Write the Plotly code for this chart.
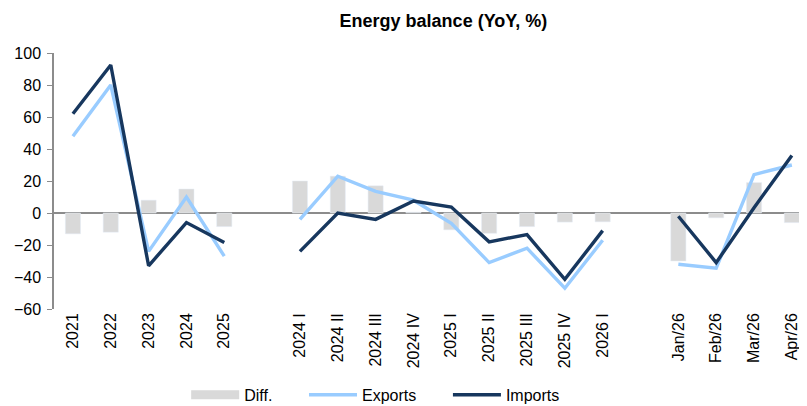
import plotly.graph_objects as go

# categories (blank slots separate the annual / quarterly / monthly blocks)
categories = ['2021', '2022', '2023', '2024', '2025', ' ',
              '2024 I', '2024 II', '2024 III', '2024 IV', '2025 I', '2025 II',
              '2025 III', '2025 IV', '2026 I', '  ',
              'Jan/26', 'Feb/26', 'Mar/26', 'Apr/26']

diff = [-13, -12, 8, 15, -8.5, None,
        20, 23, 17, 0.5, -10.5, -12.7, -8.5, -5.7, -5.5, None,
        -30, -3, 19, -6]
exports = [48, 80, -24, 10, -27, None,
           -4, 23, 13.5, 8, -6.5, -31, -22, -47, -17, None,
           -32, -34.5, 24, 30]
imports = [62, 92.5, -33, -6, -18.5, None,
           -24, 0, -4, 7.5, 3.7, -18, -13.5, -41.5, -11, None,
           -2, -31, 3.3, 36]

grey = '#D9D9D9'
light_blue = '#99CCFF'
navy = '#17375E'
font = 'Liberation Sans, Arial, sans-serif'
pad = '\u00a0' * 6  # extra room between legend entries

fig = go.Figure()

fig.add_trace(go.Bar(x=categories, y=diff, marker=dict(color=grey),
                     showlegend=False, name='Diff.'))
# legend entry for the bars drawn as a thick flat line
fig.add_trace(go.Scatter(x=[None], y=[None], mode='lines', name='Diff.' + pad,
                         line=dict(color=grey, width=9)))
fig.add_trace(go.Scatter(x=categories, y=exports, mode='lines', name='Exports' + pad,
                         line=dict(color=light_blue, width=3.4), connectgaps=False))
fig.add_trace(go.Scatter(x=categories, y=imports, mode='lines', name='Imports',
                         line=dict(color=navy, width=3.4), connectgaps=False))

# the page body adds an 8px offset, so the figure is 8px smaller each way
fig.update_layout(
    width=799, height=398,
    margin=dict(l=46, r=0, t=45, b=97),
    paper_bgcolor='white', plot_bgcolor='white',
    font=dict(family=font, size=16, color='black'),
    title=dict(text='<b>Energy balance (YoY, %)</b>', xref='container', x=0.545,
               xanchor='center', yref='container', y=0.967, yanchor='middle',
               font=dict(size=18)),
    bargap=0.6,
    legend=dict(orientation='h', xref='container', x=0.223, xanchor='left',
                yref='container', y=0.028, yanchor='middle',
                itemwidth=48, font=dict(size=16), traceorder='normal'),
    xaxis=dict(type='category', range=[-0.5, 19.4], tickangle=-90, automargin=False,
               showline=False, showgrid=False, ticks='', tickfont=dict(size=16)),
    yaxis=dict(range=[-60, 100], dtick=20, showgrid=False, automargin=False,
               showline=True, linecolor='#8C8C8C', linewidth=1.5,
               ticks='outside', ticklen=5, tickcolor='#8C8C8C', ticklabelstandoff=3,
               zeroline=True, zerolinecolor='#8C8C8C', zerolinewidth=1.5,
               tickfont=dict(size=16)),
)

fig.write_html("out.html")
